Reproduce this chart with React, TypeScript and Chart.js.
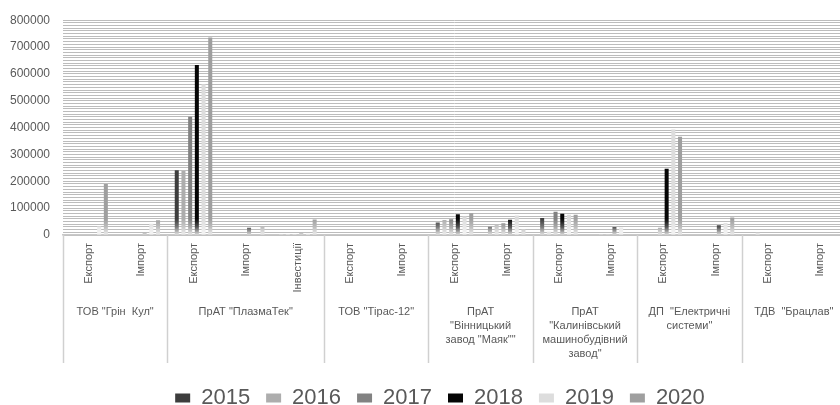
import React, { useEffect, useRef } from 'react';
import { Chart, registerables } from 'chart.js';

Chart.register(...registerables);

// ---- data ----
const SUB_LABELS = [
  'Експорт', 'Імпорт',
  'Експорт', 'Імпорт', 'Інвестиції',
  'Експорт', 'Імпорт',
  'Експорт', 'Імпорт',
  'Експорт', 'Імпорт',
  'Експорт', 'Імпорт',
  'Експорт', 'Імпорт',
];
const GROUP_LABELS: string[][] = [
  ['ТОВ "Грін  Кул"'],
  ['ПрАТ "ПлазмаТек"'],
  ['ТОВ "Тірас-12"'],
  ['ПрАТ', '"Вінницький', 'завод "Маяк""'],
  ['ПрАТ', '"Калинівський', 'машинобудівний', 'завод"'],
  ['ДП  "Електричні', 'системи"'],
  ['ТДВ  "Брацлав"'],
];
const GROUP_SIZES = [2, 3, 2, 2, 2, 2, 2];
const YEARS = ['2015', '2016', '2017', '2018', '2019', '2020'];
const V2015 = [0, 0, 241000, 0, 4000, 0, 0, 47000, 31000, 63000, 0, 0, 0, 0, 0];
const V2016 = [0, 0, 238000, 0, 4000, 0, 0, 56000, 39000, 12000, 3000, 0, 0, 8000, 0];
const V2017 = [0, 0, 440000, 0, 4000, 0, 0, 59000, 44000, 87000, 3000, 27000, 0, 0, 0];
const V2018 = [0, 8000, 633000, 27000, 8000, 0, 0, 77000, 57000, 79000, 30000, 247000, 36000, 0, 0];
const V2019 = [32000, 42000, 561000, 0, 6000, 0, 0, 69000, 73000, 75000, 28000, 393000, 45000, 0, 0];
const V2020 = [190000, 55000, 736000, 32000, 58000, 0, 0, 81000, 22000, 75000, 0, 366000, 65000, 0, 0];
const SERIES = [V2015, V2016, V2017, V2018, V2019, V2020];
const Y_MAX = 800000;
const Y_STEP = 10000;
const Y_LABEL_STEP = 100000;

// ---- styles ----
const COLORS = ['#3d3d3d', '#adadad', '#828282', '#050505', '#dddddd', '#9f9f9f'];
const MIDS = ['#7a7a7a', '#c8c8c8', '#a9a9a9', '#555555', '#e8e8e8', '#bdbdbd'];
const FADE = ['#e6e6e6', '#f0f0f0', '#ebebeb', '#e0e0e0', '#f6f6f6', '#eeeeee'];
const TEXT = '#595959';
const FONT = 'Liberation Sans';
const W = 880;
const H = 405;

function gradientFor(i: number) {
  return (c: any) => {
    const ca = c.chart.chartArea;
    if (!ca) return COLORS[i];
    const g = c.chart.ctx.createLinearGradient(0, ca.bottom, 0, ca.bottom - 36);
    g.addColorStop(0, FADE[i]);
    g.addColorStop(0.22, MIDS[i]);
    g.addColorStop(0.45, COLORS[i]);
    g.addColorStop(1, COLORS[i]);
    return g;
  };
}

const groupPlugin = {
  id: 'groupLabels',
  afterDraw(chart: any) {
    const xs = chart.scales.x;
    const ctx = chart.ctx;
    const top = chart.chartArea.bottom;
    ctx.save();
    ctx.strokeStyle = '#d0d0d0';
    ctx.lineWidth = 1.5;
    let start = 0;
    const bounds: number[] = [start];
    GROUP_SIZES.forEach((s) => { start += s; bounds.push(start); });
    bounds.forEach((b) => {
      const px = Math.round(xs.getPixelForValue(b - 0.5)) + 0.5;
      ctx.beginPath();
      ctx.moveTo(px, top);
      ctx.lineTo(px, top + 128);
      ctx.stroke();
    });
    ctx.fillStyle = TEXT;
    ctx.font = `11px "${FONT}"`;
    ctx.textAlign = 'center';
    ctx.textBaseline = 'middle';
    let s0 = 0;
    GROUP_SIZES.forEach((size, gi) => {
      const cx = xs.getPixelForValue(s0 + (size - 1) / 2);
      GROUP_LABELS[gi].forEach((line, li) => {
        ctx.fillText(line, cx, top + 77 + li * 14);
      });
      s0 += size;
    });
    ctx.restore();
  },
};

export default function App() {
  const ref = useRef<HTMLCanvasElement | null>(null);
  useEffect(() => {
    if (!ref.current) return;
    const chart = new Chart(ref.current, {
      type: 'bar',
      data: {
        labels: SUB_LABELS,
        datasets: YEARS.map((y, i) => ({
          label: y,
          data: SERIES[i],
          backgroundColor: gradientFor(i),
          borderWidth: 0,
          categoryPercentage: 0.77,
          barPercentage: 0.6,
        })),
      },
      options: {
        responsive: false,
        animation: false,
        devicePixelRatio: 1,
        layout: { padding: { top: 14, left: 0, right: 0, bottom: -14 } },
        plugins: {
          tooltip: { enabled: false },
          legend: {
            position: 'bottom',
            labels: {
              boxWidth: 15,
              boxHeight: 9,
              padding: 16,
              color: TEXT,
              font: { family: FONT, size: 22 },
              generateLabels: (chart: any) => {
                const items = Chart.defaults.plugins.legend.labels.generateLabels(chart);
                return items.map((it: any, i: number) => ({
                  ...it,
                  fillStyle: COLORS[i],
                  strokeStyle: COLORS[i],
                  lineWidth: 0,
                }));
              },
            },
          },
        },
        scales: {
          x: {
            type: 'category',
            offset: true,
            grid: { display: false, drawTicks: false },
            border: { display: true, color: '#c8c8c8', width: 1.5 },
            ticks: {
              autoSkip: false,
              maxRotation: 90,
              minRotation: 90,
              padding: 8,
              color: TEXT,
              font: { family: FONT, size: 11 },
            },
            afterFit: (s: any) => { s.height = 136; },
          },
          y: {
            type: 'linear',
            min: 0,
            max: Y_MAX,
            grid: { color: '#bcbcbc', lineWidth: 1, drawTicks: false },
            border: { display: false },
            ticks: {
              stepSize: Y_STEP,
              autoSkip: false,
              padding: 13,
              color: TEXT,
              font: { family: FONT, size: 12 },
              callback: (v: any) => (Number(v) % Y_LABEL_STEP === 0 ? String(v) : ''),
            },
            afterFit: (s: any) => { s.width = 63; },
          },
          yR: {
            type: 'linear',
            position: 'right',
            display: true,
            grid: { display: false, drawTicks: false },
            border: { display: false },
            ticks: { display: false },
            afterFit: (s: any) => { s.width = W - 846; },
          },
        },
      },
      plugins: [groupPlugin],
    } as any);
    return () => chart.destroy();
  }, []);
  return (
    <div style={{ position: 'fixed', left: 0, top: 0, width: W, height: H, background: '#ffffff' }}>
      <canvas ref={ref} width={W} height={H} style={{ display: 'block' }} />
    </div>
  );
}
